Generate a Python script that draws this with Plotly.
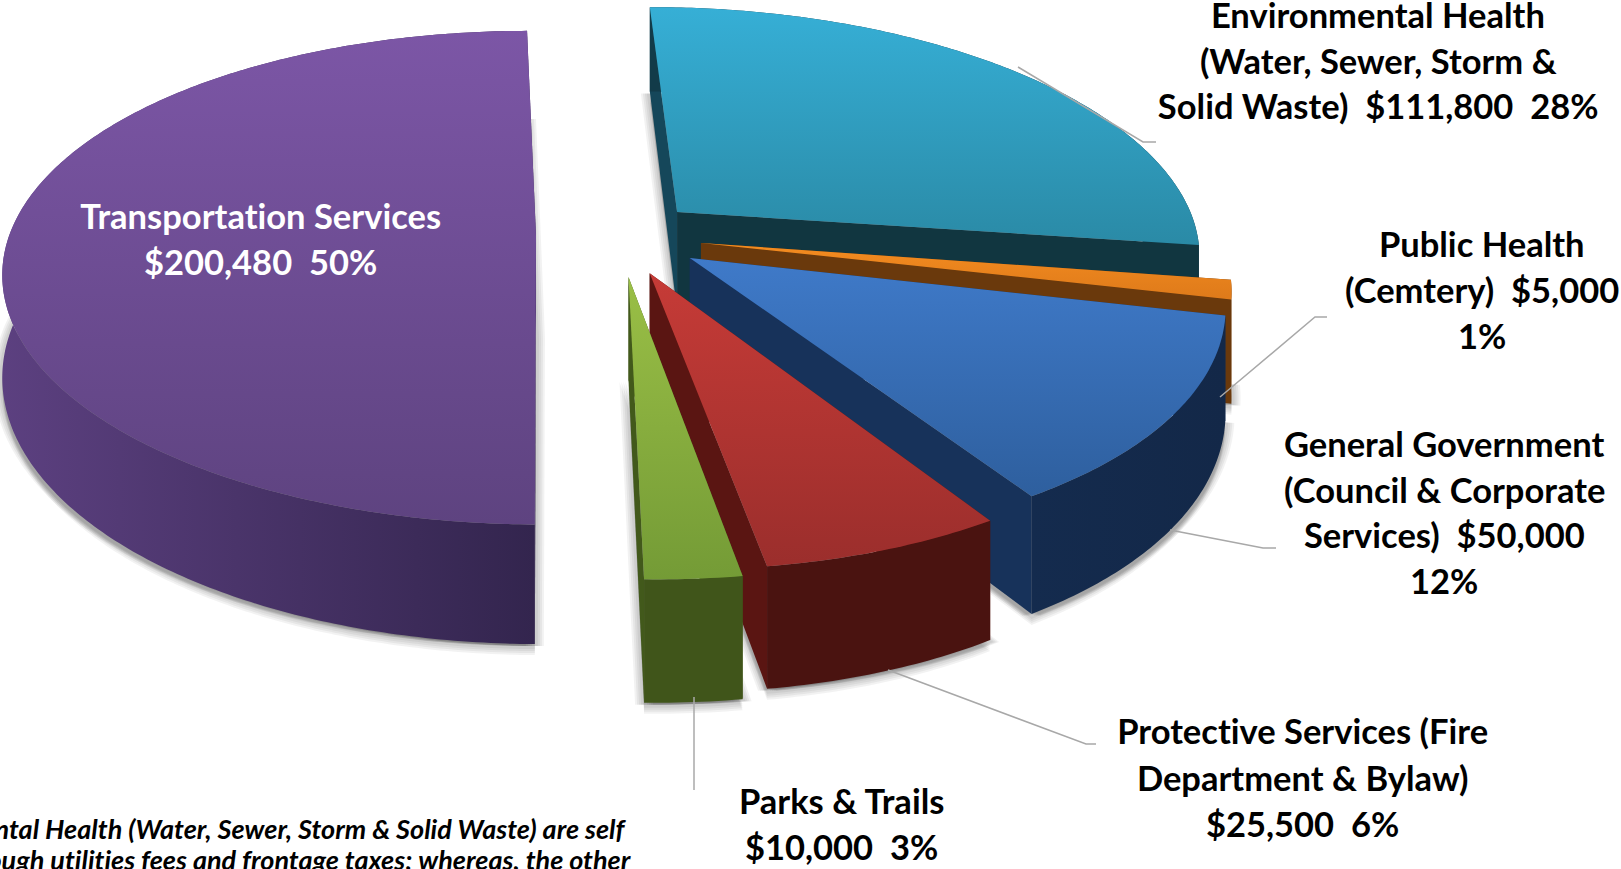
import numpy as np
import plotly.graph_objects as go

# Budget breakdown
categories = ["Transportation Services", "Environmental Health", "Public Health",
              "General Government", "Protective Services", "Parks & Trails"]
amounts = [200480, 111800, 5000, 50000, 25500, 10000]
percent_labels = ["50%", "28%", "1%", "12%", "6%", "3%"]

# Text blocks, one list per label, one string per line
label_transport = ["Transportation Services", "$200,480  50%"]
label_environment = ["Environmental Health", "(Water, Sewer, Storm &", "Solid Waste)  $111,800  28%"]
label_public = ["Public Health", "(Cemtery)  $5,000", "1%"]
label_general = ["General Government", "(Council & Corporate", "Services)  $50,000", "12%"]
label_protective = ["Protective Services (Fire", "Department & Bylaw)", "$25,500  6%"]
label_parks = ["Parks & Trails", "$10,000  3%"]
footnote_lines = ["Environmental Health (Water, Sewer, Storm & Solid Waste) are self",
                  "funded through utilities fees and frontage taxes; whereas, the other"]

W, H = 1621, 869

# Perspective model of the ground plane
VX, VY = 501.0, -1234.0
KY = 1470.0
DEPTH = 3200.0
RADIUS_Y = 522.0
THICK = 100.0
ROTATION = 0.3


def project(x, y, z=0.0):
    s = 1.0 / (1.0 + np.asarray(y) / DEPTH)
    return VX + np.asarray(x) * s, VY + KY * s + z * s


# Per-slice placement on the ground plane: point of the wedge, shift of its rim
# relative to that point, horizontal radius, and an extra turn in degrees
explode = {0: (35, 0), 1: (179, 53), 2: (199, -15), 3: (186, -47), 4: (145, -79), 5: (124, -87)}
rim_shift = {0: (-2, -3), 1: (0, 15), 2: (2, 15), 3: (2, 15), 4: (2, 9), 5: (2, 3)}
radius_x = {0: 525.0, 1: 522.0, 2: 516.0, 3: 516.0, 4: 516.0, 5: 516.0}
twist = {0: -0.6, 1: -0.6, 2: 0.0, 3: 0.0, 4: 0.0, 5: 0.0}
order = [0, 1, 2, 3, 4, 5]

styles = {
    0: dict(top=("#7C56A6", "#5E4380"), rim=("#5C4080", "#33254E"), a="#3C2B58", b="#3C2B58"),
    1: dict(top=("#36AFD6", "#2A8AA6"), rim=("#123B49", "#113A46"), a="#15475A", b="#113640"),
    2: dict(top=("#F48C20", "#DE7A1A"), rim=("#7A4008", "#7A4008"), a="#6A390C", b="#6A390C"),
    3: dict(top=("#3F7AC9", "#2E5F9E"), rim=("#142B4E", "#132848"), a="#17325A", b="#17325A"),
    4: dict(top=("#C63B37", "#9B2E2C"), rim=("#4A1310", "#44120F"), a="#5A1512", b="#5A1512"),
    5: dict(top=("#9ABF46", "#749B36"), rim=("#40551A", "#3D5118"), a="#42591B", b="#42591B"),
}

total = sum(amounts)
# Clockwise angles from twelve o'clock, the pie starting with slice 1 and ending with slice 0
sweep_order = [1, 2, 3, 4, 5, 0]
angles = {}
acc = ROTATION
for i in sweep_order:
    span = 360.0 * amounts[i] / total
    angles[i] = (acc + twist[i], acc + span + twist[i])
    acc += span


def outline(i):
    a0, a1 = angles[i]
    ox, oy = explode[i]
    mx, my = rim_shift[i]
    t = np.radians(np.linspace(a0, a1, max(8, int((a1 - a0) * 1.5))))
    return ox + mx + radius_x[i] * np.sin(t), oy + my + RADIUS_Y * np.cos(t), ox, oy


def poly(xs, ys, **kw):
    return go.Scatter(x=np.asarray(xs, dtype=float), y=np.asarray(ys, dtype=float),
                      mode="none", fill="toself", hoverinfo="skip", showlegend=False, **kw)


def gradient(kind, pair):
    return dict(type=kind, colorscale=[[0, pair[0]], [1, pair[1]]])


fig = go.Figure()

# Soft shadow: widened copies of each slice's underside
for i in order:
    rx, ry, ox, oy = outline(i)
    gx = np.r_[ox, rx, ox]
    gy = np.r_[oy, ry, oy]
    sx, sy = project(gx, gy, THICK)
    for k in (9, 7, 5, 3):
        for dx, dy in ((k, 2), (-k, 2), (0, k + 2)):
            fig.add_trace(poly(sx + dx, sy + dy, fillcolor="rgba(0,0,0,0.05)"))

# Slices, back to front: radial walls, rim, then the top face
for i in order:
    st = styles[i]
    rx, ry, ox, oy = outline(i)
    tx, ty = project(rx, ry)
    bx, by = project(rx, ry, THICK)
    cx, cy = project(ox, oy)
    dx, dy = project(ox, oy, THICK)

    fig.add_trace(poly([cx, tx[0], bx[0], dx, cx], [cy, ty[0], by[0], dy, cy], fillcolor=st["a"]))
    fig.add_trace(poly(np.r_[tx, bx[::-1], tx[0]], np.r_[ty, by[::-1], ty[0]],
                       fillgradient=gradient("horizontal", st["rim"]) if i in (0, 3) else None,
                       fillcolor=None if i in (0, 3) else st["rim"][0]))
    fig.add_trace(poly([cx, tx[-1], bx[-1], dx, cx], [cy, ty[-1], by[-1], dy, cy], fillcolor=st["b"]))
    fig.add_trace(poly(np.r_[cx, tx, cx], np.r_[cy, ty, cy],
                       fillgradient=gradient("vertical", st["top"][::-1])))

# Leader lines from each slice to its label
leaders = [
    [(1018, 67), (1143, 142), (1156, 142)],
    [(1220, 397), (1315, 317), (1327, 317)],
    [(1170, 530), (1263, 548), (1276, 548)],
    [(888, 670), (1086, 744), (1096, 744)],
    [(694, 697), (694, 790)],
]
shapes = []
for pts in leaders:
    path = "M" + " L".join(f"{x},{y}" for x, y in pts)
    shapes.append(dict(type="path", path=path, xref="x", yref="y",
                       line=dict(color="#A8A8A8", width=1.5)))

FONT = "Lato"
SIZE = 34.5
annotations = []


def add_block(lines, cx, ys, color="#000000"):
    for text, y in zip(lines, ys):
        annotations.append(dict(x=cx, y=y, xref="x", yref="y", text=f"<b>{text}</b>", showarrow=False,
                                xanchor="center", yanchor="middle",
                                font=dict(family=FONT, size=SIZE, color=color)))


add_block(label_transport, 260, [215.5, 261], "#FFFFFF")
add_block(label_environment, 1378, [14, 60, 105])
add_block(label_public, 1482, [243.5, 289.5, 335])
add_block(label_general, 1444, [443, 489, 534.5, 580])
add_block(label_protective, 1302, [730.5, 777, 823])
add_block(label_parks, 841, [800.5, 846.5])

for text, xr, y in zip(footnote_lines, [628, 633], [828, 859]):
    annotations.append(dict(x=xr, y=y, xref="x", yref="y", text=f"<b><i>{text}</i></b>", showarrow=False,
                            xanchor="right", yanchor="middle",
                            font=dict(family=FONT, size=27, color="#000000")))

fig.update_layout(
    width=W, height=H, margin=dict(l=0, r=0, t=0, b=0),
    paper_bgcolor="#FFFFFF", plot_bgcolor="#FFFFFF", showlegend=False,
    xaxis=dict(range=[0, W], visible=False, fixedrange=True),
    yaxis=dict(range=[H, 0], visible=False, fixedrange=True),
    shapes=shapes, annotations=annotations,
)
# Plain letter forms, without joined "ti" glyphs
no_ligatures = ("var s=document.createElement('style');"
                "s.textContent='text{font-variant-ligatures:none;font-feature-settings:\"liga\" 0,\"clig\" 0,\"dlig\" 0;"
                "letter-spacing:0.01px;}';"
                "document.head.appendChild(s);")
fig.write_html("out.html", config=dict(displayModeBar=False), post_script=no_ligatures)
